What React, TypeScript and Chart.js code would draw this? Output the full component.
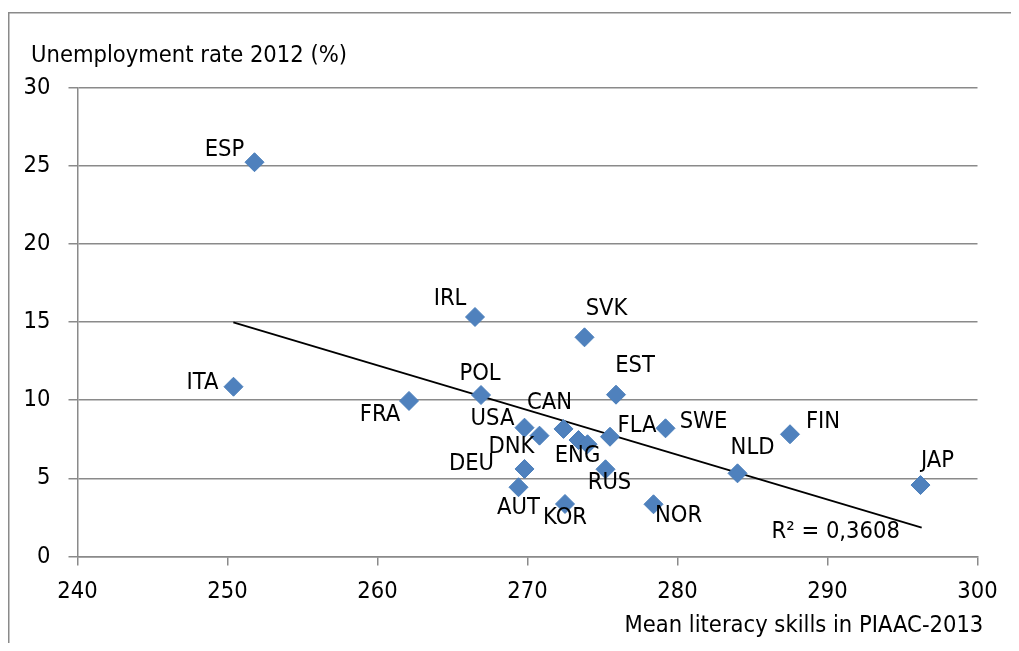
import React, { useEffect, useRef } from 'react';
import { Chart, registerables } from 'chart.js';

Chart.register(...registerables);

// ---- data ----
const countries = ['ESP', 'ITA', 'FRA', 'IRL', 'POL', 'SVK', 'EST', 'CAN', 'USA', 'FLA', 'SWE', 'FIN', 'DNK', 'ENG', '', 'DEU', 'RUS', 'NLD', 'JAP', 'AUT', 'KOR', 'NOR'];
const literacy = [251.8, 250.4, 262.1, 266.5, 266.9, 273.8, 275.9, 272.4, 269.8, 275.5, 279.2, 287.5, 270.8, 273.4, 274.0, 269.8, 275.2, 284.0, 296.2, 269.4, 272.5, 278.4];
const unemployment = [25.22, 10.86, 9.95, 15.32, 10.33, 14.02, 10.35, 8.16, 8.24, 7.66, 8.2, 7.82, 7.73, 7.45, 7.18, 5.6, 5.58, 5.32, 4.57, 4.43, 3.36, 3.34];
const trendX = [250.39, 296.28];
const trendY = [14.98, 1.84];
const xTickValues = [240, 250, 260, 270, 280, 290, 300];
const yTickValues = [0, 5, 10, 15, 20, 25, 30];
const rSquaredText = 'R\u00b2 = 0,3608';
const rSquaredX = 290.55;
const rSquaredY = 1.74;
const yTitle = 'Unemployment rate 2012 (%)';
const xTitle = 'Mean literacy skills in PIAAC-2013';

// ---- styles ----
const FONT = '"DejaVu Sans Condensed", "Liberation Sans", sans-serif';
const FONT_SIZE = 23.5;
const GRID = '#8a8a8a';
const LINE_W = 1.5;
const MARKER = '#4F81BD';
const W = 1011;
const H = 643;

// label offsets (text centre relative to point centre, px)
const labelOffsets: Record<string, [number, number]> = {
  ESP: [-30, -15], ITA: [-31, -6], FRA: [-29, 12], IRL: [-25, -20], POL: [-1, -24],
  SVK: [22, -31], EST: [19, -31], CAN: [-14, -28], USA: [-32, -11], FLA: [27, -13],
  SWE: [38, -9], FIN: [33, -15], DNK: [-28, 9], ENG: [-1, 13], DEU: [-53, -7],
  RUS: [4, 11], NLD: [15, -28], JAP: [17, -27], AUT: [0, 18], KOR: [0, 12], NOR: [25, 9],
};

const overlayPlugin = {
  id: 'overlay',
  beforeDraw(chart: any) {
    const ctx = chart.ctx;
    ctx.save();
    ctx.strokeStyle = GRID;
    ctx.lineWidth = LINE_W;
    ctx.beginPath();
    ctx.moveTo(0.75, H);
    ctx.lineTo(0.75, 4.75);
    ctx.lineTo(W, 4.75);
    ctx.stroke();
    ctx.restore();
  },
  afterDatasetsDraw(chart: any) {
    const ctx = chart.ctx;
    ctx.save();
    ctx.font = `${FONT_SIZE}px ${FONT}`;
    ctx.fillStyle = '#000';
    ctx.textAlign = 'center';
    ctx.textBaseline = 'alphabetic';
    const capH = ctx.measureText('E').actualBoundingBoxAscent;
    const meta = chart.getDatasetMeta(0);
    meta.data.forEach((pt: any, i: number) => {
      const name = countries[i];
      if (!name) return;
      const off = labelOffsets[name] || [0, -20];
      ctx.fillText(name, pt.x + off[0], pt.y + off[1] + capH / 2);
    });
    const xs = chart.scales.x;
    const ys = chart.scales.y;
    ctx.fillText(rSquaredText, xs.getPixelForValue(rSquaredX), ys.getPixelForValue(rSquaredY) + capH / 2);
    ctx.textAlign = 'left';
    ctx.fillText(yTitle, 23, 53.7);
    ctx.textAlign = 'right';
    ctx.fillText(xTitle, 975.3, 623.7);
    ctx.restore();
  },
};

export default function App() {
  const ref = useRef<HTMLCanvasElement>(null);
  useEffect(() => {
    if (!ref.current) return;
    const chart = new Chart(ref.current, {
      type: 'scatter',
      data: {
        datasets: [
          {
            label: 'Countries',
            data: literacy.map((x, i) => ({ x, y: unemployment[i] })),
            pointStyle: 'rectRot',
            pointRadius: 9.5,
            pointHoverRadius: 9.5,
            backgroundColor: MARKER,
            borderColor: '#4A7EBB',
            borderWidth: 1,
            showLine: false,
          },
          {
            label: 'Trend',
            data: trendX.map((x, i) => ({ x, y: trendY[i] })),
            showLine: true,
            pointRadius: 0,
            borderColor: '#000',
            borderWidth: 1.8,
            fill: false,
          },
        ],
      },
      options: {
        responsive: false,
        animation: false,
        events: [],
        layout: { padding: { left: 0, top: 79.5, right: 41.5, bottom: 0 } },
        plugins: { legend: { display: false }, tooltip: { enabled: false }, title: { display: false } },
        scales: {
          x: {
            type: 'linear',
            position: 'bottom',
            min: 240,
            max: 300,
            afterBuildTicks: (s: any) => { s.ticks = xTickValues.map((v) => ({ value: v })); },
            afterFit: (s: any) => { s.height = 94.5; },
            ticks: { color: '#000', font: { family: FONT, size: FONT_SIZE }, padding: 12, maxRotation: 0 },
            grid: { drawOnChartArea: false, drawTicks: true, tickLength: 9, color: GRID, lineWidth: LINE_W, tickWidth: LINE_W },
            border: { color: GRID, width: LINE_W },
          },
          y: {
            type: 'linear',
            min: 0,
            max: 30,
            afterBuildTicks: (s: any) => { s.ticks = yTickValues.map((v) => ({ value: v })); },
            afterFit: (s: any) => { s.width = 69.5; },
            ticks: { color: '#000', font: { family: FONT, size: FONT_SIZE }, padding: 18 },
            grid: { drawOnChartArea: true, drawTicks: true, tickLength: 9, color: GRID, lineWidth: LINE_W, tickWidth: LINE_W },
            border: { color: GRID, width: LINE_W },
          },
        },
      },
      plugins: [overlayPlugin],
    });
    return () => chart.destroy();
  }, []);
  return (
    <div style={{ width: W, height: H, marginBottom: -8 }}>
      <canvas ref={ref} width={W} height={H} style={{ display: 'block', width: W, height: H }} />
    </div>
  );
}
